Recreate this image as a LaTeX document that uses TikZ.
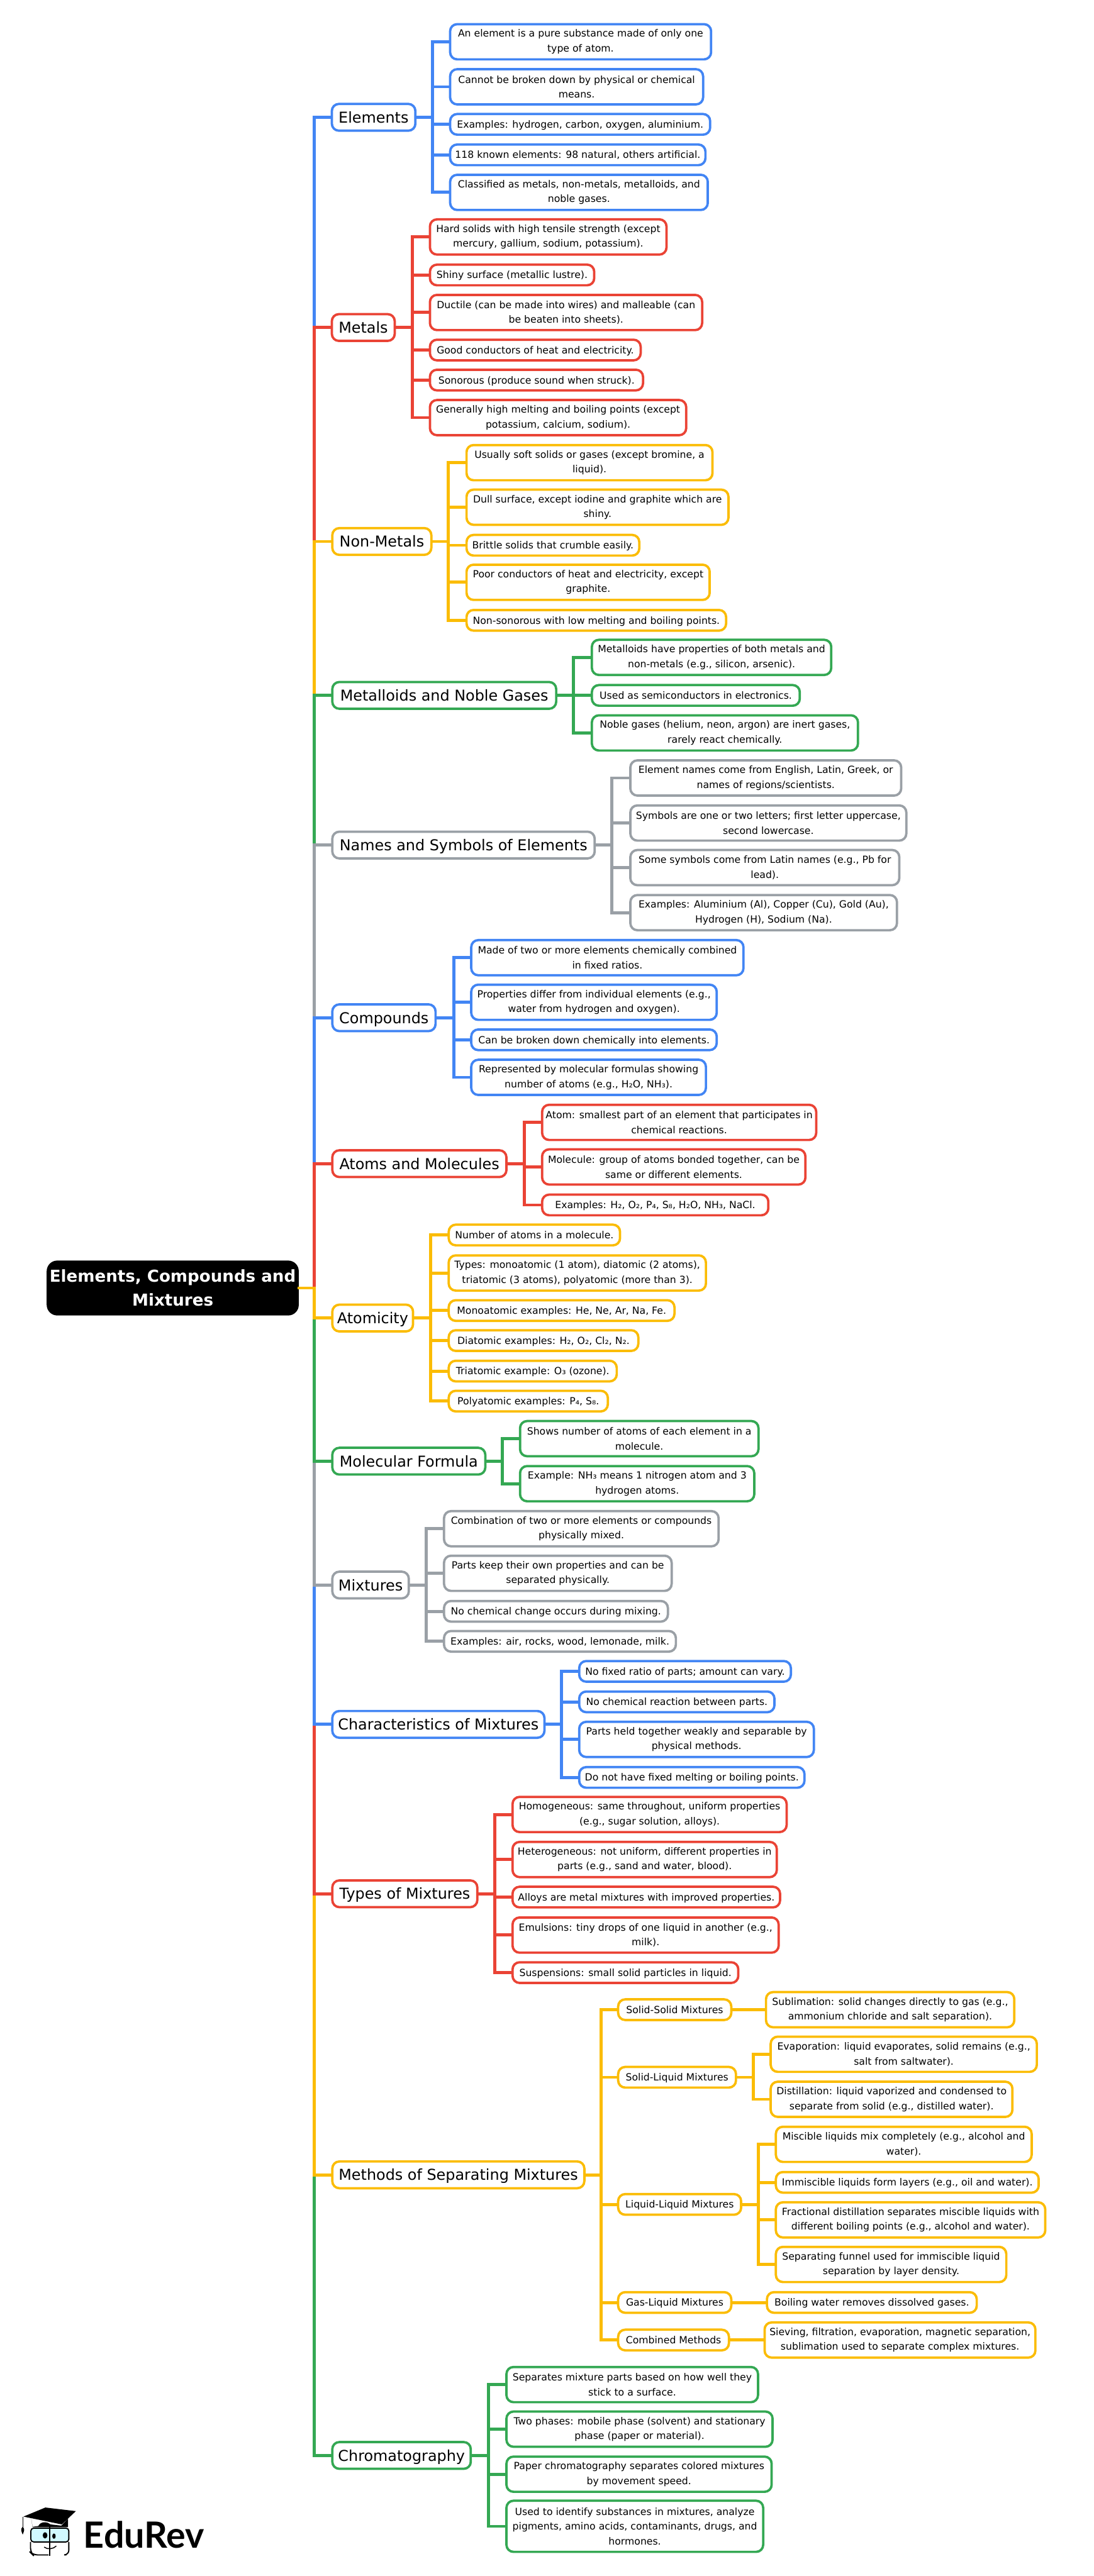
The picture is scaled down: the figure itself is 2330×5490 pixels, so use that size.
\documentclass[tikz,border=0pt]{standalone}
\usepackage{fontspec}
\setmainfont{DejaVu Sans}
\newfontfamily\logofont{Lato}
\usepackage{tikz}

\definecolor{cblue}{HTML}{4285F4}
\definecolor{cred}{HTML}{EA4335}
\definecolor{cyellow}{HTML}{FBBC04}
\definecolor{cgreen}{HTML}{34A853}
\definecolor{cgray}{HTML}{9AA0A6}

\tikzset{
  anybox/.style={anchor=west,fill=white,line width=5,rounded corners=15,inner sep=0,outer sep=0,align=center,text=black},
  rootbox/.style={anybox,fill=black,draw=black,rounded corners=20,text=white,minimum width=532,minimum height=112,font=\fontsize{35}{50.5}\selectfont\bfseries},
  mainbox/.style={anybox,draw=#1,minimum height=57,text height=30,text depth=6.6,font=\fontsize{32}{40}\selectfont},
  subbox/.style={anybox,draw=#1,minimum height=44,text height=20,text depth=4.7,font=\fontsize{21}{31.5}\selectfont},
  leafbox/.style={anybox,draw=#1,minimum height=44,text height=20,text depth=4.7,font=\fontsize{21}{31.5}\selectfont},
  twoline/.style={minimum height=75,text height=,text depth=},
  threeline/.style={minimum height=109,text height=,text depth=},
  wire/.style={draw=#1,line width=6.5}
}

\begin{document}
\begin{tikzpicture}[x=1pt,y=-1pt]
\useasboundingbox (0,0) rectangle (2330,5490);

% root and trunk
\node[rootbox] (root) at (102,2745) {Elements, Compounds and\\Mixtures};
\coordinate (trunk) at (670,2745);

% main topics
\node[mainbox=cblue,minimum width=178] (elements) at (707,250) {Elements};
\node[mainbox=cred,minimum width=134] (metals) at (707,698) {Metals};
\node[mainbox=cyellow,minimum width=211] (nonmetals) at (708,1154) {Non-Metals};
\node[mainbox=cgreen,minimum width=477] (metalloids) at (708,1482) {Metalloids and Noble Gases};
\node[mainbox=cgray,minimum width=559] (names) at (708,1801) {Names and Symbols of Elements};
\node[mainbox=cblue,minimum width=220] (compounds) at (708,2169) {Compounds};
\node[mainbox=cred,minimum width=371] (atoms) at (708,2480) {Atoms and Molecules};
\node[mainbox=cyellow,minimum width=172] (atomicity) at (708,2809) {Atomicity};
\node[mainbox=cgreen,minimum width=326] (formula) at (708,3114) {Molecular Formula};
\node[mainbox=cgray,minimum width=163] (mixtures) at (708,3378) {Mixtures};
\node[mainbox=cblue,minimum width=452] (charact) at (708,3675) {Characteristics of Mixtures};
\node[mainbox=cred,minimum width=309] (types) at (708,4036) {Types of Mixtures};
\node[mainbox=cyellow,minimum width=537] (methods) at (708,4635) {Methods of Separating Mixtures};
\node[mainbox=cgreen,minimum width=295] (chroma) at (708,5233) {Chromatography};

% Elements
\node[leafbox=cblue,twoline,minimum width=556] (el1) at (959,89) {An element is a pure substance made of only one\\type of atom.};
\node[leafbox=cblue,twoline,minimum width=539] (el2) at (959,185) {Cannot be broken down by physical or chemical\\means.};
\node[leafbox=cblue,minimum width=554] (el3) at (959,265) {Examples: hydrogen, carbon, oxygen, aluminium.};
\node[leafbox=cblue,minimum width=544] (el4) at (959,330) {118 known elements: 98 natural, others artificial.};
\node[leafbox=cblue,twoline,minimum width=549] (el5) at (959,410) {Classified as metals, non-metals, metalloids, and\\noble gases.};

% Metals
\node[leafbox=cred,twoline,minimum width=504] (me1) at (916,505) {Hard solids with high tensile strength (except\\mercury, gallium, sodium, potassium).};
\node[leafbox=cred,minimum width=350] (me2) at (916,586) {Shiny surface (metallic lustre).};
\node[leafbox=cred,twoline,minimum width=580] (me3) at (916,666) {Ductile (can be made into wires) and malleable (can\\be beaten into sheets).};
\node[leafbox=cred,minimum width=449] (me4) at (916,746) {Good conductors of heat and electricity.};
\node[leafbox=cred,minimum width=454] (me5) at (916,810) {Sonorous (produce sound when struck).};
\node[leafbox=cred,twoline,minimum width=546] (me6) at (916,890) {Generally high melting and boiling points (except\\potassium, calcium, sodium).};

% Non-Metals
\node[leafbox=cyellow,twoline,minimum width=524] (nm1) at (994,986) {Usually soft solids or gases (except bromine, a\\liquid).};
\node[leafbox=cyellow,twoline,minimum width=558] (nm2) at (994,1081) {Dull surface, except iodine and graphite which are\\shiny.};
\node[leafbox=cyellow,minimum width=368] (nm3) at (994,1162) {Brittle solids that crumble easily.};
\node[leafbox=cyellow,twoline,minimum width=518] (nm4) at (994,1241) {Poor conductors of heat and electricity, except\\graphite.};
\node[leafbox=cyellow,minimum width=553] (nm5) at (994,1322) {Non-sonorous with low melting and boiling points.};

% Metalloids and Noble Gases
\node[leafbox=cgreen,twoline,minimum width=510] (mn1) at (1261,1401) {Metalloids have properties of both metals and\\non-metals (e.g., silicon, arsenic).};
\node[leafbox=cgreen,minimum width=443] (mn2) at (1261,1482) {Used as semiconductors in electronics.};
\node[leafbox=cgreen,twoline,minimum width=567] (mn3) at (1261,1562) {Noble gases (helium, neon, argon) are inert gases,\\rarely react chemically.};

% Names and Symbols
\node[leafbox=cgray,twoline,minimum width=577] (ns1) at (1343,1658) {Element names come from English, Latin, Greek, or\\names of regions/scientists.};
\node[leafbox=cgray,twoline,minimum width=588] (ns2) at (1343,1754) {Symbols are one or two letters; first letter uppercase,\\second lowercase.};
\node[leafbox=cgray,twoline,minimum width=573] (ns3) at (1343,1849) {Some symbols come from Latin names (e.g., Pb for\\lead).};
\node[leafbox=cgray,twoline,minimum width=568] (ns4) at (1343,1945) {Examples: Aluminium (Al), Copper (Cu), Gold (Au),\\Hydrogen (H), Sodium (Na).};

% Compounds
\node[leafbox=cblue,twoline,minimum width=580] (co1) at (1004,2041) {Made of two or more elements chemically combined\\in fixed ratios.};
\node[leafbox=cblue,twoline,minimum width=523] (co2) at (1004,2136) {Properties differ from individual elements (e.g.,\\water from hydrogen and oxygen).};
\node[leafbox=cblue,minimum width=523] (co3) at (1004,2216) {Can be broken down chemically into elements.};
\node[leafbox=cblue,twoline,minimum width=500] (co4) at (1004,2296) {Represented by molecular formulas showing\\number of atoms (e.g., H₂O, NH₃).};

% Atoms and Molecules
\node[leafbox=cred,twoline,minimum width=584] (at1) at (1155,2392) {Atom: smallest part of an element that participates in\\chemical reactions.};
\node[leafbox=cred,twoline,minimum width=561] (at2) at (1155,2487) {Molecule: group of atoms bonded together, can be\\same or different elements.};
\node[leafbox=cred,minimum width=482] (at3) at (1155,2568) {Examples: H₂, O₂, P₄, S₈, H₂O, NH₃, NaCl.};

% Atomicity
\node[leafbox=cyellow,minimum width=365] (ty1) at (956,2632) {Number of atoms in a molecule.};
\node[leafbox=cyellow,twoline,minimum width=548] (ty2) at (956,2713) {Types: monoatomic (1 atom), diatomic (2 atoms),\\triatomic (3 atoms), polyatomic (more than 3).};
\node[leafbox=cyellow,minimum width=481] (ty3) at (956,2793) {Monoatomic examples: He, Ne, Ar, Na, Fe.};
\node[leafbox=cyellow,minimum width=404] (ty4) at (956,2857) {Diatomic examples: H₂, O₂, Cl₂, N₂.};
\node[leafbox=cyellow,minimum width=358] (ty5) at (956,2922) {Triatomic example: O₃ (ozone).};
\node[leafbox=cyellow,minimum width=339] (ty6) at (956,2986) {Polyatomic examples: P₄, S₈.};

% Molecular Formula
\node[leafbox=cgreen,twoline,minimum width=508] (mf1) at (1108,3066) {Shows number of atoms of each element in a\\molecule.};
\node[leafbox=cgreen,twoline,minimum width=499] (mf2) at (1108,3162) {Example: NH₃ means 1 nitrogen atom and 3\\hydrogen atoms.};

% Mixtures
\node[leafbox=cgray,twoline,minimum width=585] (mx1) at (946,3258) {Combination of two or more elements or compounds\\physically mixed.};
\node[leafbox=cgray,twoline,minimum width=485] (mx2) at (946,3353) {Parts keep their own properties and can be\\separated physically.};
\node[leafbox=cgray,minimum width=477] (mx3) at (946,3434) {No chemical change occurs during mixing.};
\node[leafbox=cgray,minimum width=494] (mx4) at (946,3498) {Examples: air, rocks, wood, lemonade, milk.};

% Characteristics of Mixtures
\node[leafbox=cblue,minimum width=451] (ch1) at (1234,3562) {No fixed ratio of parts; amount can vary.};
\node[leafbox=cblue,minimum width=416] (ch2) at (1234,3627) {No chemical reaction between parts.};
\node[leafbox=cblue,twoline,minimum width=500] (ch3) at (1234,3707) {Parts held together weakly and separable by\\physical methods.};
\node[leafbox=cblue,minimum width=480] (ch4) at (1234,3788) {Do not have fixed melting or boiling points.};

% Types of Mixtures
\node[leafbox=cred,twoline,minimum width=584] (tm1) at (1092,3867) {Homogeneous: same throughout, uniform properties\\(e.g., sugar solution, alloys).};
\node[leafbox=cred,twoline,minimum width=563] (tm2) at (1092,3963) {Heterogeneous: not uniform, different properties in\\parts (e.g., sand and water, blood).};
\node[leafbox=cred,minimum width=570] (tm3) at (1092,4043) {Alloys are metal mixtures with improved properties.};
\node[leafbox=cred,twoline,minimum width=567] (tm4) at (1092,4124) {Emulsions: tiny drops of one liquid in another (e.g.,\\milk).};
\node[leafbox=cred,minimum width=481] (tm5) at (1092,4204) {Suspensions: small solid particles in liquid.};

% Methods of Separating Mixtures
\node[subbox=cyellow,minimum width=241] (solidsolid) at (1317,4283) {Solid-Solid Mixtures};
\node[subbox=cyellow,minimum width=251] (solidliquid) at (1317,4427) {Solid-Liquid Mixtures};
\node[subbox=cyellow,minimum width=262] (liquidliquid) at (1317,4698) {Liquid-Liquid Mixtures};
\node[subbox=cyellow,minimum width=241] (gasliquid) at (1317,4907) {Gas-Liquid Mixtures};
\node[subbox=cyellow,minimum width=236] (combined) at (1317,4987) {Combined Methods};

\node[leafbox=cyellow,twoline,minimum width=529] (ss1) at (1632,4283) {Sublimation: solid changes directly to gas (e.g.,\\ammonium chloride and salt separation).};
\node[leafbox=cyellow,twoline,minimum width=567] (sl1) at (1642,4378) {Evaporation: liquid evaporates, solid remains (e.g.,\\salt from saltwater).};
\node[leafbox=cyellow,twoline,minimum width=515] (sl2) at (1642,4474) {Distillation: liquid vaporized and condensed to\\separate from solid (e.g., distilled water).};
\node[leafbox=cyellow,twoline,minimum width=545] (ll1) at (1653,4570) {Miscible liquids mix completely (e.g., alcohol and\\water).};
\node[leafbox=cyellow,minimum width=560] (ll2) at (1653,4651) {Immiscible liquids form layers (e.g., oil and water).};
\node[leafbox=cyellow,twoline,minimum width=574] (ll3) at (1653,4731) {Fractional distillation separates miscible liquids with\\different boiling points (e.g., alcohol and water).};
\node[leafbox=cyellow,twoline,minimum width=491] (ll4) at (1653,4826) {Separating funnel used for immiscible liquid\\separation by layer density.};
\node[leafbox=cyellow,minimum width=447] (gl1) at (1634,4907) {Boiling water removes dissolved gases.};
\node[leafbox=cyellow,twoline,minimum width=577] (cb1) at (1629,4987) {Sieving, filtration, evaporation, magnetic separation,\\sublimation used to separate complex mixtures.};

% Chromatography
\node[leafbox=cgreen,twoline,minimum width=536] (cr1) at (1079,5082) {Separates mixture parts based on how well they\\stick to a surface.};
\node[leafbox=cgreen,twoline,minimum width=567] (cr2) at (1079,5177) {Two phases: mobile phase (solvent) and stationary\\phase (paper or material).};
\node[leafbox=cgreen,twoline,minimum width=565] (cr3) at (1079,5273) {Paper chromatography separates colored mixtures\\by movement speed.};
\node[leafbox=cgreen,threeline,minimum width=547] (cr4) at (1079,5384) {Used to identify substances in mixtures, analyze\\pigments, amino acids, contaminants, drugs, and\\hormones.};

% bus points
\coordinate (elbus) at (922,250);
\coordinate (mebus) at (879,698);
\coordinate (nmbus) at (955,1154);
\coordinate (mnbus) at (1222,1482);
\coordinate (nsbus) at (1304,1801);
\coordinate (cobus) at (967,2169);
\coordinate (atbus) at (1117,2480);
\coordinate (tybus) at (918,2809);
\coordinate (mfbus) at (1070,3114);
\coordinate (mxbus) at (908,3378);
\coordinate (chbus) at (1196,3675);
\coordinate (tmbus) at (1054,4036);
\coordinate (sebus) at (1281,4635);
\coordinate (slbus) at (1605,4427);
\coordinate (llbus) at (1616,4698);
\coordinate (crbus) at (1041,5233);

% trunk, top half first
\draw[wire=cblue] (root.east) -- (trunk) |- (elements.west);
\draw[wire=cred] (root.east) -- (trunk) |- (metals.west);
\draw[wire=cyellow] (root.east) -- (trunk) |- (nonmetals.west);
\draw[wire=cgreen] (root.east) -- (trunk) |- (metalloids.west);
\draw[wire=cgray] (root.east) -- (trunk) |- (names.west);
\draw[wire=cblue] (root.east) -- (trunk) |- (compounds.west);
\draw[wire=cred] (root.east) -- (trunk) |- (atoms.west);
\draw[wire=cgreen] (root.east) -- (trunk) |- (chroma.west);
\draw[wire=cyellow] (root.east) -- (trunk) |- (methods.west);
\draw[wire=cred] (root.east) -- (trunk) |- (types.west);
\draw[wire=cblue] (root.east) -- (trunk) |- (charact.west);
\draw[wire=cgray] (root.east) -- (trunk) |- (mixtures.west);
\draw[wire=cgreen] (root.east) -- (trunk) |- (formula.west);
\draw[wire=cyellow] (root.east) -- (trunk) |- (atomicity.west);

% branches
\draw[wire=cblue] (elements.east) -- (elbus) |- (el1.west) (elbus) |- (el2.west) (elbus) |- (el3.west) (elbus) |- (el4.west) (elbus) |- (el5.west);
\draw[wire=cred] (metals.east) -- (mebus) |- (me1.west) (mebus) |- (me2.west) (mebus) |- (me3.west) (mebus) |- (me4.west) (mebus) |- (me5.west) (mebus) |- (me6.west);
\draw[wire=cyellow] (nonmetals.east) -- (nmbus) |- (nm1.west) (nmbus) |- (nm2.west) (nmbus) |- (nm3.west) (nmbus) |- (nm4.west) (nmbus) |- (nm5.west);
\draw[wire=cgreen] (metalloids.east) -- (mnbus) |- (mn1.west) (mnbus) |- (mn2.west) (mnbus) |- (mn3.west);
\draw[wire=cgray] (names.east) -- (nsbus) |- (ns1.west) (nsbus) |- (ns2.west) (nsbus) |- (ns3.west) (nsbus) |- (ns4.west);
\draw[wire=cblue] (compounds.east) -- (cobus) |- (co1.west) (cobus) |- (co2.west) (cobus) |- (co3.west) (cobus) |- (co4.west);
\draw[wire=cred] (atoms.east) -- (atbus) |- (at1.west) (atbus) |- (at2.west) (atbus) |- (at3.west);
\draw[wire=cyellow] (atomicity.east) -- (tybus) |- (ty1.west) (tybus) |- (ty2.west) (tybus) |- (ty3.west) (tybus) |- (ty4.west) (tybus) |- (ty5.west) (tybus) |- (ty6.west);
\draw[wire=cgreen] (formula.east) -- (mfbus) |- (mf1.west) (mfbus) |- (mf2.west);
\draw[wire=cgray] (mixtures.east) -- (mxbus) |- (mx1.west) (mxbus) |- (mx2.west) (mxbus) |- (mx3.west) (mxbus) |- (mx4.west);
\draw[wire=cblue] (charact.east) -- (chbus) |- (ch1.west) (chbus) |- (ch2.west) (chbus) |- (ch3.west) (chbus) |- (ch4.west);
\draw[wire=cred] (types.east) -- (tmbus) |- (tm1.west) (tmbus) |- (tm2.west) (tmbus) |- (tm3.west) (tmbus) |- (tm4.west) (tmbus) |- (tm5.west);
\draw[wire=cyellow] (methods.east) -- (sebus) |- (solidsolid.west) (sebus) |- (solidliquid.west) (sebus) |- (liquidliquid.west) (sebus) |- (gasliquid.west) (sebus) |- (combined.west);
\draw[wire=cyellow] (solidsolid.east) -- (ss1.west);
\draw[wire=cyellow] (solidliquid.east) -- (slbus) |- (sl1.west) (slbus) |- (sl2.west);
\draw[wire=cyellow] (liquidliquid.east) -- (llbus) |- (ll1.west) (llbus) |- (ll2.west) (llbus) |- (ll3.west) (llbus) |- (ll4.west);
\draw[wire=cyellow] (gasliquid.east) -- (gl1.west);
\draw[wire=cyellow] (combined.east) -- (cb1.west);
\draw[wire=cgreen] (chroma.east) -- (crbus) |- (cr1.west) (crbus) |- (cr2.west) (crbus) |- (cr3.west) (crbus) |- (cr4.west);

% logo
\node[anchor=west,inner sep=0,font=\fontsize{77}{77}\selectfont\logofont\bfseries] (logotext) at (178,5402) {EduRev};
\begin{scope}[shift={(20,5330)},x=0.3333pt,y=-0.3333pt]
\fill (90,100) -- (230,42) -- (425,65) -- (335,150) -- cycle;
\fill (140,112) -- (148,165) -- (185,160) .. controls (200,130) and (240,130) .. (262,150) -- (332,158) -- (375,112) -- (375,168) -- (148,168) -- cycle;
\draw[line width=1] (85,100) -- (85,170);
\fill (85,165) .. controls (70,180) and (75,190) .. (85,215) .. controls (95,190) and (100,180) .. (85,165) -- cycle;
\draw[line width=2.5,fill=blue!12!cyan!18!white,rounded corners=6] (137,174) rectangle (380,262);
\draw[line width=2.5,rounded corners=10] (250,345) -- (150,345) -- (135,330) -- (135,262);
\draw[line width=2.5,rounded corners=10] (380,262) -- (380,345) -- (365,345);
\draw[line width=3] (258,168) -- (258,350);
\fill (228,220) ellipse (15 and 20);
\fill (285,225) ellipse (11 and 17);
\draw[line width=2] (222,295) .. controls (245,312) and (280,308) .. (300,288);
\end{scope}
\end{tikzpicture}
\end{document}
